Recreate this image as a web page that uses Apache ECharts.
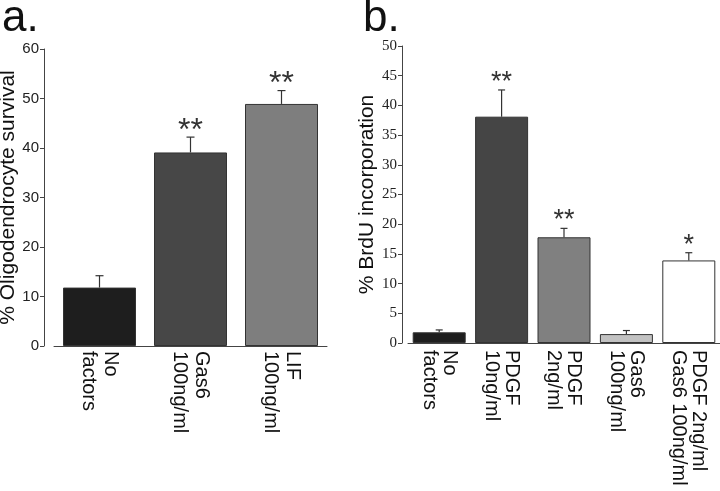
<!DOCTYPE html>
<html>
<head>
<meta charset="utf-8">
<script src="https://cdn.jsdelivr.net/npm/echarts@6/dist/echarts.min.js"></script>
<style>html,body{margin:0;padding:0;background:#fff}#c{width:720px;height:491px}</style>
</head>
<body>
<div id="c"></div>
<script>
// Panel a data
const catsA = ['No\nfactors', 'Gas6\n100ng/ml', 'LIF\n100ng/ml'];
const valsA = [11.8, 39.1, 48.9];
const errA = [14.2, 42.2, 51.6];
const starsA = ['', '**', '**'];
const colorsA = ['#1e1e1e', '#474747', '#7e7e7e'];
const ticksA = { min: 0, max: 60, interval: 10 };

// Panel b data
const catsB = ['No\nfactors', 'PDGF\n10ng/ml', 'PDGF\n2ng/ml', 'Gas6\n100ng/ml', 'PDGF 2ng/ml\nGas6 100ng/ml'];
const valsB = [1.8, 38.1, 17.8, 1.5, 13.9];
const errB = [2.2, 42.6, 19.3, 2.1, 15.2];
const starsB = ['', '**', '**', '', '*'];
const colorsB = ['#1e1e1e', '#454545', '#808080', '#c2c2c2', '#ffffff'];
const ticksB = { min: 0, max: 50, interval: 5 };

const chart = echarts.init(document.getElementById('c'));

function errRender(stars, capW, starSize, starGap) {
  return function (params, api) {
    const base = api.coord([api.value(0), api.value(1)]);
    const top = api.coord([api.value(0), api.value(2)]);
    const st = { stroke: '#333', lineWidth: 1.2 };
    const children = [
      { type: 'line', shape: { x1: base[0], y1: base[1], x2: base[0], y2: top[1] }, style: st },
      { type: 'line', shape: { x1: base[0] - capW / 2, y1: top[1], x2: base[0] + capW / 2, y2: top[1] }, style: st }
    ];
    const s = stars[params.dataIndex];
    if (s) {
      children.push({
        type: 'text',
        style: {
          text: s, x: base[0], y: top[1] - starGap,
          align: 'center', verticalAlign: 'bottom',
          fill: '#333', font: 'normal ' + starSize + 'px "Liberation Sans"'
        }
      });
    }
    return { type: 'group', children: children };
  };
}

const axisLineStyle = { show: true, lineStyle: { color: '#444', width: 1 } };

chart.setOption({
  animation: false,
  backgroundColor: '#fff',
  title: [
    { text: 'a.', left: -3, top: -8, textStyle: { fontSize: 44, fontWeight: 'normal', color: '#111', fontFamily: 'Liberation Sans' } },
    { text: 'b.', left: 358, top: -8, textStyle: { fontSize: 44, fontWeight: 'normal', color: '#111', fontFamily: 'Liberation Sans' } }
  ],
  grid: [
    { left: 54, width: 273, top: 49, bottom: 145, outerBoundsMode: 'none', containLabel: false },
    { left: 408, width: 312, top: 46, bottom: 148, outerBoundsMode: 'none', containLabel: false }
  ],
  xAxis: [
    {
      type: 'category', gridIndex: 0, data: catsA,
      axisLine: axisLineStyle, axisTick: { show: false },
      axisLabel: { rotate: -90, margin: 5, fontSize: 20, lineHeight: 22, padding: [0, 0, 20, 0], color: '#111', fontFamily: 'Liberation Sans' }
    },
    {
      type: 'category', gridIndex: 1, data: catsB,
      axisLine: axisLineStyle, axisTick: { show: false },
      axisLabel: { rotate: -90, margin: 7, fontSize: 20, lineHeight: 20, color: '#111', fontFamily: 'Liberation Sans' }
    }
  ],
  yAxis: [
    {
      type: 'value', gridIndex: 0, min: ticksA.min, max: ticksA.max, interval: ticksA.interval, offset: 10,
      name: '% Oligodendrocyte survival', nameLocation: 'middle', nameGap: 25,
      nameTextStyle: { fontSize: 21, color: '#111', fontFamily: 'Liberation Sans' },
      axisLine: axisLineStyle, axisTick: { show: true, length: 4, lineStyle: { color: '#444' } },
      axisLabel: { margin: 5, fontSize: 15, color: '#222', fontFamily: 'Liberation Sans' },
      splitLine: { show: false }
    },
    {
      type: 'value', gridIndex: 1, min: ticksB.min, max: ticksB.max, interval: ticksB.interval, offset: 6,
      name: '% BrdU incorporation', nameLocation: 'middle', nameGap: 20,
      nameTextStyle: { fontSize: 21, color: '#111', fontFamily: 'Liberation Sans' },
      axisLine: axisLineStyle, axisTick: { show: true, length: 4, lineStyle: { color: '#444' } },
      axisLabel: { margin: 5, fontSize: 15, color: '#222', fontFamily: 'Liberation Serif' },
      splitLine: { show: false }
    }
  ],
  series: [
    {
      type: 'bar', xAxisIndex: 0, yAxisIndex: 0, barWidth: 73,
      data: valsA.map((v, i) => ({ value: v, itemStyle: { color: colorsA[i], borderColor: '#333', borderWidth: 1 } }))
    },
    {
      type: 'custom', xAxisIndex: 0, yAxisIndex: 0, z: 5,
      renderItem: errRender(starsA, 8, 32, -10),
      data: valsA.map((v, i) => [i, v, errA[i]])
    },
    {
      type: 'bar', xAxisIndex: 1, yAxisIndex: 1, barWidth: 53,
      data: valsB.map((v, i) => ({ value: v, itemStyle: { color: colorsB[i], borderColor: '#333', borderWidth: 1 } }))
    },
    {
      type: 'custom', xAxisIndex: 1, yAxisIndex: 1, z: 5,
      renderItem: errRender(starsB, 7, 27, -6),
      data: valsB.map((v, i) => [i, v, errB[i]])
    }
  ]
});
</script>
</body>
</html>
